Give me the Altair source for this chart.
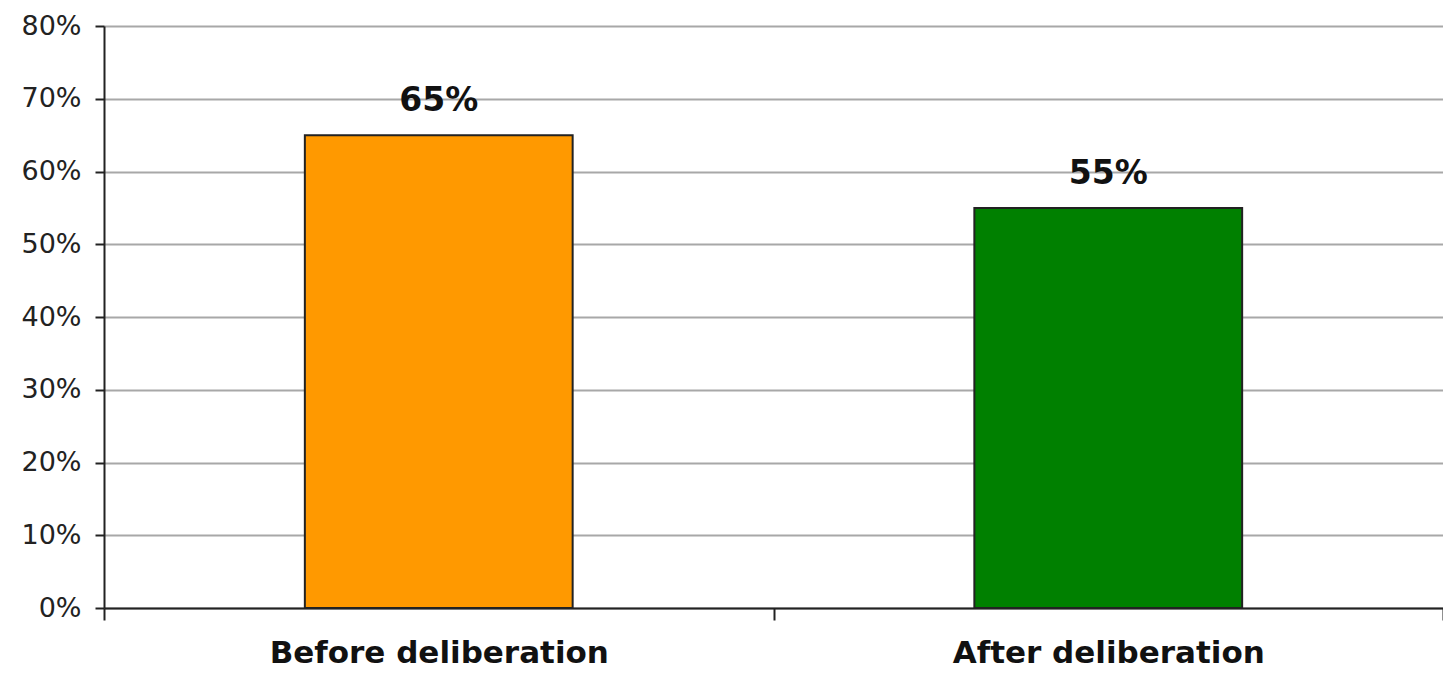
import altair as alt
import pandas as pd

categories = ["Before deliberation", "After deliberation"]
values = [0.65, 0.55]
colors = ["#FF9900", "#008000"]

df = pd.DataFrame({"stage": categories, "share": values, "color": colors})

base = alt.Chart(df).encode(
    x=alt.X(
        "stage:N",
        sort=categories,
        scale=alt.Scale(paddingInner=0, paddingOuter=0),
        axis=alt.Axis(
            title=None,
            labelAngle=0,
            labelFont="DejaVu Sans",
            labelFontWeight="bold",
            labelFontSize=31,
            labelColor="#111111",
            labelBaseline="middle",
            labelPadding=33,
            labelLimit=0,
            tickBand="extent",
            tickSize=12,
            tickWidth=2,
            tickColor="#222222",
            domainColor="#222222",
            domainWidth=2,
            grid=False,
        ),
    ),
    y=alt.Y(
        "share:Q",
        scale=alt.Scale(domain=[0, 0.8]),
        axis=alt.Axis(
            title=None,
            format=".0%",
            values=[0, 0.1, 0.2, 0.3, 0.4, 0.5, 0.6, 0.7, 0.8],
            labelFont="DejaVu Sans",
            labelFontSize=27,
            labelColor="#222222",
            labelPadding=14,
            tickSize=9,
            tickWidth=2,
            tickColor="#222222",
            domainColor="#222222",
            domainWidth=2,
            grid=True,
            gridColor="#a8a8a8",
            gridWidth=2,
        ),
    ),
)

bars = base.mark_bar(
    width=alt.RelativeBandSize(0.4), stroke="#222222", strokeWidth=2
).encode(color=alt.Color("color:N", scale=None))

labels = base.mark_text(
    dy=-34, baseline="middle", font="DejaVu Sans", fontWeight="bold",
    fontSize=33, color="#111111"
).encode(text=alt.Text("share:Q", format=".0%"))

chart = (
    (bars + labels)
    .properties(
        width=1339,
        height=582,
        autosize=alt.AutoSizeParams(type="none"),
        padding={"left": 96, "top": 18, "right": 0, "bottom": 61},
    )
    .configure_view(stroke=None)
    .configure(background="white")
)

chart.save("out.html", embed_options={"renderer": "svg", "actions": False})
